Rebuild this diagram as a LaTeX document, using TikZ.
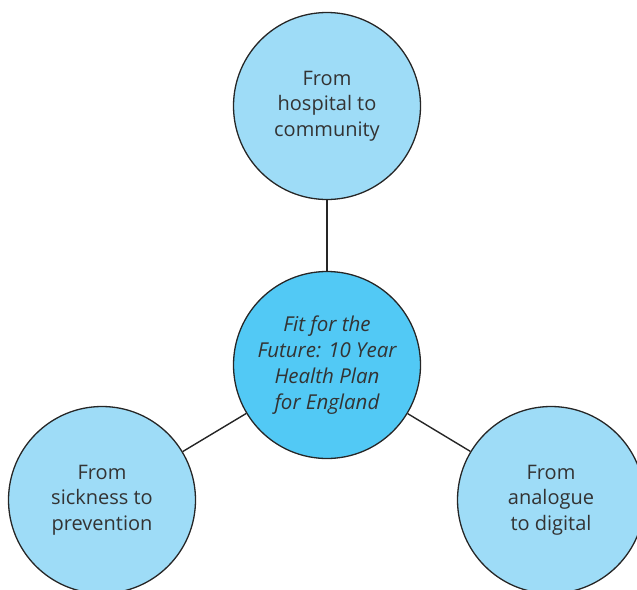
\documentclass[tikz,border=0pt]{standalone}
\usepackage{fontspec}
\setmainfont{Open Sans}
\definecolor{lightblue}{HTML}{9EDCF7}
\definecolor{midblue}{HTML}{52C9F5}
\definecolor{txt}{HTML}{333333}
\begin{document}
\begin{tikzpicture}[x=1pt,y=-1pt,
  bubble/.style={circle,draw=black!85,line width=1.3pt,minimum size=187pt,inner sep=0pt,
    fill=lightblue,text=txt,align=center,font=\fontsize{20}{25.5}\selectfont},
  hub/.style={bubble,fill=midblue,font=\fontsize{20.5}{26}\selectfont\itshape},
  link/.style={draw=black!85,line width=1.4pt}]
\useasboundingbox (0,0) rectangle (637,589);
\clip (0,0) rectangle (637,589);
\node[hub] (c) at (327,365) {Fit for the\\Future: 10 Year\\Health Plan\\for England};
\node[bubble] (t) at (327,106) {From\\hospital to\\community};
\node[bubble] (l) at (102,500) {From\\sickness to\\prevention};
\node[bubble] (r) at (551,500) {From\\analogue\\to digital};
\draw[link] (t) -- (c);
\draw[link] (c) -- (l);
\draw[link] (c) -- (r);
\end{tikzpicture}
\end{document}
